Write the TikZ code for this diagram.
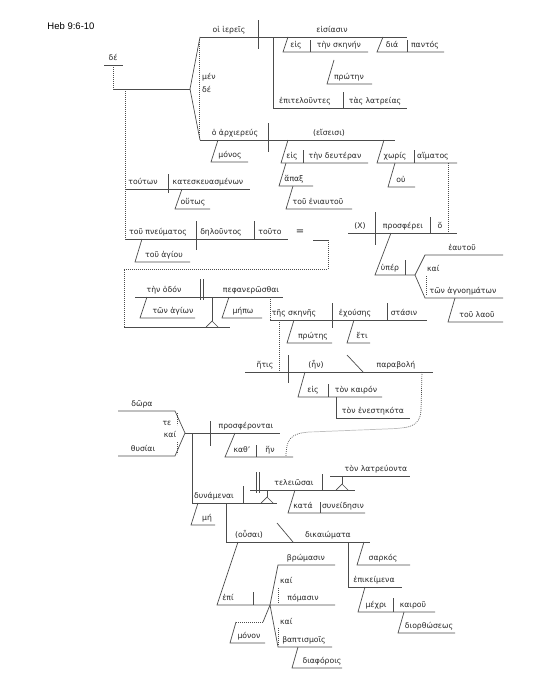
\documentclass[tikz,border=0pt]{standalone}
\usepackage{fontspec}
\setmainfont{DejaVu Sans}
\newfontfamily\hebfont{Liberation Sans}
\newcommand\gk{\fontsize{7.7}{9}\selectfont}
\newcommand\TT[4]{\node[tx] (#1) at (#2,#3-5) {#4};}
\begin{document}
\begin{tikzpicture}[x=1pt,y=-1pt,
  ln/.style={line width=0.7pt,draw=black!70},
  dt/.style={line width=0.7pt,draw=black!70,dash pattern=on 0.8pt off 1.2pt},
  tx/.style={anchor=base,inner sep=0pt,font=\gk,text=black!85},
  tw/.style={anchor=base west,inner sep=0pt,font=\gk,text=black!85}]
\useasboundingbox (0,0) rectangle (535,680);
\node[anchor=base,inner sep=0pt,font=\hebfont\fontsize{9.5}{11}\selectfont] (heb) at (71,29) {Heb 9:6-10};

% ---- top delta
\TT{de1}{113}{65}{δέ}
\draw[ln] (104,65)--(123,65);
\draw[dt] (113,65)--(113,89);
\draw[ln] (113,89)--(190,89);
\draw[ln] (200,37)--(190,89)--(200,140);
\draw[dt] (199,40)--(199,138);
\node[tw] (men) at (202,79) {μέν};
\node[tw] (de2) at (202,92) {δέ};
\draw[dt] (125,89)--(125,239);

% ---- clause 1
\TT{ierees}{229}{37}{οἱ ἱερεῖς}
\TT{eisiasin}{332}{37}{εἰσίασιν}
\draw[ln] (200,37)--(407,37);
\draw[ln] (258,20)--(258,49);
\TT{eis1}{296}{52}{εἰς}
\TT{skenen}{339}{52}{τὴν σκηνήν}
\draw[ln] (288,37)--(283,52)--(368,52);
\draw[ln] (310,40)--(310,52);
\TT{proten}{349}{84}{πρώτην}
\draw[ln] (334,60)--(327,84)--(372,84);
\TT{dia}{392}{52}{διά}
\TT{pantos}{425}{52}{παντός}
\draw[ln] (383,37)--(377,52)--(444,52);
\draw[ln] (407,40)--(407,52);
\TT{epitel}{305}{108}{ἐπιτελοῦντες}
\TT{latreias}{375}{108}{τὰς λατρείας}
\draw[ln] (273,37)--(273,108)--(407,108);
\draw[ln] (343,92)--(343,108);

% ---- clause 2
\TT{archiereus}{235}{140}{ὁ ἀρχιερεύς}
\TT{eiseisi}{329}{140}{(εἴσεισι)}
\draw[ln] (200,140)--(395,140);
\draw[ln] (268,123)--(268,152);
\TT{monos}{230}{162}{μόνος}
\draw[ln] (218,140)--(211,162)--(248,162);
\TT{eis2}{292}{163}{εἰς}
\TT{deuteran}{335}{163}{τὴν δευτέραν}
\draw[ln] (288,140)--(281,163)--(368,163);
\draw[ln] (303,150)--(303,163);
\TT{hapax}{294}{186}{ἅπαξ}
\draw[ln] (286,163)--(279,186)--(313,186);
\TT{eniautou}{318}{209}{τοῦ ἐνιαυτοῦ}
\draw[ln] (293,186)--(286,209)--(352,209);
\TT{choris}{395}{163}{χωρίς}
\TT{haimatos}{433}{163}{αἵματος}
\draw[ln] (384,140)--(377,163)--(457,163);
\draw[ln] (414,150)--(414,163);
\TT{ou}{401}{187}{οὐ}
\draw[ln] (395,163)--(388,187)--(415,187);
\draw[dt] (448,163)--(448,233);

% ---- genitive absolutes
\TT{touton}{143}{189}{τούτων}
\TT{kateskeu}{208}{189}{κατεσκευασμένων}
\draw[ln] (125,189)--(250,189);
\draw[ln] (168,174)--(168,193);
\TT{houtos}{193}{209}{οὕτως}
\draw[ln] (182,189)--(175,209)--(210,209);
\TT{pneumatos}{158}{239}{τοῦ πνεύματος}
\TT{delountos}{221}{239}{δηλοῦντος}
\TT{touto}{270}{239}{τοῦτο}
\draw[ln] (125,239)--(288,239);
\draw[ln] (196,221)--(196,250);
\draw[ln] (254,221)--(254,239);
\TT{hagiou}{164}{262}{τοῦ ἁγίου}
\draw[ln] (142,239)--(135,262)--(190,262);
\node[tx,font=\fontsize{10}{12}\selectfont] (eq) at (300,234) {=};
\draw[ln] (313,240)--(328,240);
\draw[dt] (328,240)--(328,269)--(124,269)--(124,327);
\draw[ln] (124,327)--(230,327);

% ---- content clause
\TT{hodon}{164}{297}{τὴν ὁδόν}
\TT{pephan}{251}{297}{πεφανερῶσθαι}
\draw[ln] (135,297)--(283,297);
\draw[ln] (200,279)--(200,300);
\draw[ln] (203.5,279)--(203.5,300);
\TT{hagion}{173}{318}{τῶν ἁγίων}
\draw[ln] (147,297)--(140,318)--(195,318);
\TT{mepo}{243}{318}{μήπω}
\draw[ln] (229,297)--(222,318)--(262,318);
\draw[ln] (212,297)--(212,321);
\draw[ln] (206,327)--(212,321)--(218,327);
\draw[dt] (270,297)--(270,320);

\TT{skenes}{294}{320}{τῆς σκηνῆς}
\TT{echouses}{355}{320}{ἐχούσης}
\TT{stasin}{404}{320}{στάσιν}
\draw[ln] (270,320)--(427,320);
\draw[ln] (332,303)--(332,328);
\draw[ln] (387,303)--(387,320);
\TT{protes}{313}{343}{πρώτης}
\draw[ln] (294,320)--(287,343)--(332,343);
\TT{eti}{362}{343}{ἔτι}
\draw[ln] (354,320)--(347,343)--(370,343);
\draw[dt] (279,320)--(279,372);

% ---- relative clause
\TT{hetis}{265}{372}{ἥτις}
\TT{en}{316}{372}{(ἦν)}
\TT{parabole}{396}{372}{παραβολή}
\draw[ln] (245,372)--(433,372);
\draw[ln] (288,355)--(288,383);
\draw[ln] (347,355)--(363,372);
\TT{eis3}{313}{397}{εἰς}
\TT{kairon}{356}{397}{τὸν καιρόν}
\draw[ln] (305,372)--(298,397)--(382,397);
\draw[ln] (328,384)--(328,397);
\TT{enestekota}{373}{418}{τὸν ἐνεστηκότα}
\draw[ln] (336,397)--(336,418)--(410,418);
\draw[dt] (422,372)--(421,410) .. controls (420,428) and (408,428) .. (385,429)
  -- (310,432) .. controls (290,433) and (286,440) .. (286,457);

% ---- gifts and sacrifices
\TT{dora}{142}{411}{δῶρα}
\TT{thysiai}{143}{456}{θυσίαι}
\node[tx] (te) at (167,425) {τε};
\node[tx] (kai2) at (170,437) {καί};
\draw[ln] (118,411)--(175,411)--(185,433)--(175,456)--(118,456);
\draw[dt] (177,413)--(177,425);
\draw[dt] (177,442)--(177,454);
\TT{prospherontai}{246}{433}{προσφέρονται}
\draw[ln] (185,433)--(280,433);
\draw[ln] (210,421)--(210,446);
\TT{kath}{242}{457}{καθ'}
\TT{hen}{270}{457}{ἥν}
\draw[ln] (235,433)--(225,457)--(293,457);
\draw[ln] (256,445)--(256,457);
\draw[ln] (192,433)--(192,503);

% ---- dynamenai
\TT{dynamenai}{214}{503}{δυνάμεναι}
\draw[ln] (192,503)--(277,503);
\draw[ln] (243,486)--(243,503);
\TT{me}{207}{525}{μή}
\draw[ln] (198,503)--(191,525)--(215,525);
\draw[ln] (267,490)--(267,497);
\draw[ln] (261,503)--(267,497)--(273,503);
\TT{teleiosai}{294}{490}{τελειῶσαι}
\draw[ln] (250,490)--(355,490);
\draw[ln] (256,472)--(256,493);
\draw[ln] (259.5,472)--(259.5,493);
\draw[ln] (322,474)--(322,490);
\TT{latreuonta}{376}{476}{τὸν λατρεύοντα}
\draw[ln] (330,476)--(410,476);
\draw[ln] (342,476)--(342,484);
\draw[ln] (336,490)--(342,484)--(348,490);
\TT{kata}{303}{513}{κατά}
\TT{syneidesin}{343}{513}{συνείδησιν}
\draw[ln] (295,490)--(288,513)--(365,513);
\draw[ln] (320,502)--(320,513);

% ---- ousai dikaiomata
\TT{ousai}{249}{542}{(οὖσαι)}
\TT{dikaiomata}{328}{542}{δικαιώματα}
\draw[ln] (226,503)--(226,542)--(370,542);
\draw[ln] (277,523)--(293,542);
\TT{sarkos}{383}{565}{σαρκός}
\draw[ln] (364,542)--(357,565)--(410,565);
\TT{epikeimena}{374}{587}{ἐπικείμενα}
\draw[ln] (348,542)--(348,587)--(402,587);
\TT{mechri}{376}{612}{μέχρι}
\TT{kairou}{413}{612}{καιροῦ}
\draw[ln] (365,587)--(358,612)--(435,612);
\draw[ln] (393,598)--(393,612);
\TT{diorthoseos}{429}{633}{διορθώσεως}
\draw[ln] (404,612)--(398,633)--(455,633);

% ---- epi
\TT{epi}{228}{605}{ἐπί}
\draw[ln] (238,542)--(217,605)--(335,605);
\draw[ln] (253,592)--(253,605);
\TT{bromasin}{306}{565}{βρώμασιν}
\TT{pomasin}{303}{605}{πόμασιν}
\TT{baptismois}{304}{647}{βαπτισμοῖς}
\node[tw] (kai3) at (280,583) {καί};
\node[tw] (kai4) at (280,624) {καί};
\draw[ln] (335,565)--(278,565)--(270,605)--(278,647)--(332,647);
\draw[dt] (278,588)--(278,603);
\draw[dt] (278,628)--(278,645);
\TT{diaphorois}{322}{668}{διαφόροις}
\draw[ln] (298,647)--(292,668)--(342,668);
\TT{monon}{249}{643}{μόνον}
\draw[dt] (236,622)--(263,622);
\draw[ln] (263,622)--(270,605);
\draw[ln] (236,622)--(230,643)--(265,643);

% ---- relative ho clause
\TT{X}{360}{233}{(X)}
\TT{prospherei}{403}{233}{προσφέρει}
\TT{ho}{440}{233}{ὅ}
\draw[ln] (348,233)--(457,233);
\draw[ln] (375,212)--(375,245);
\draw[ln] (430,217)--(430,233);
\TT{hyper}{390}{275}{ὑπέρ}
\draw[ln] (391,233)--(375,275)--(415,275);
\draw[ln] (405,260)--(405,275);
\TT{heautou}{462}{255}{ἑαυτοῦ}
\TT{agnoematon}{463}{298}{τῶν ἀγνοημάτων}
\node[tw] (kai1) at (427,271) {καί};
\draw[ln] (503,255)--(425,255)--(415,275)--(425,298)--(503,298);
\draw[dt] (426,276)--(426,295);
\TT{laou}{477}{322}{τοῦ λαοῦ}
\draw[ln] (455,298)--(448,322)--(503,322);
\end{tikzpicture}
\end{document}
